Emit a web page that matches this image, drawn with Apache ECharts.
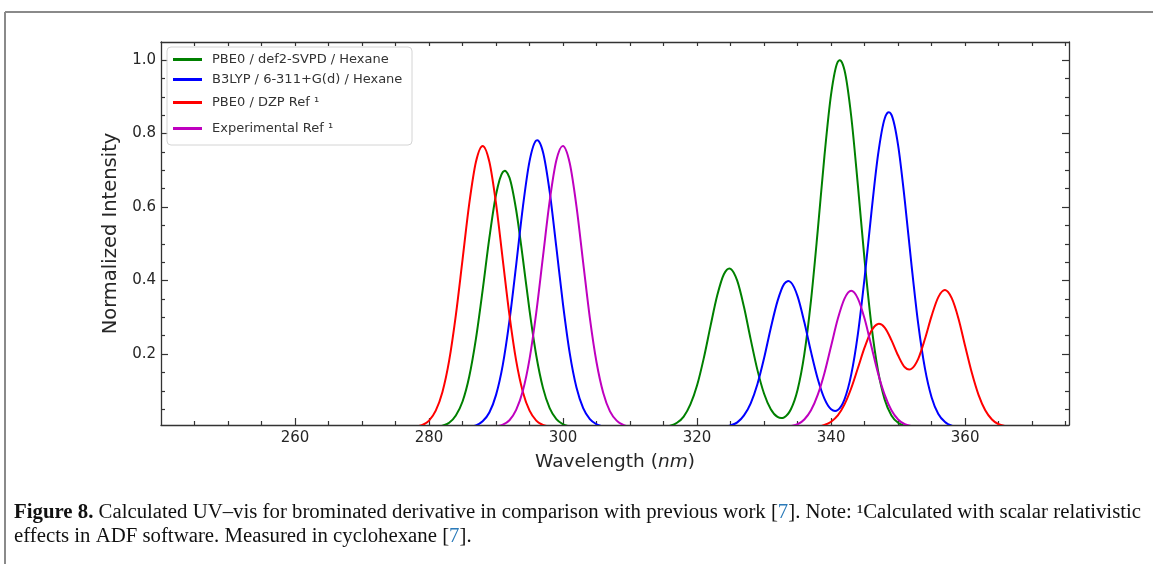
<!DOCTYPE html>
<html><head><meta charset="utf-8">
<script src="https://cdn.jsdelivr.net/npm/echarts@6/dist/echarts.min.js"></script>
<style>html,body{margin:0;padding:0;background:#fff}#c{width:1153px;height:564px}</style>
</head><body><div id="c"></div>
<script>
// ---------- data ----------
const wavelengths = [
  276,277,278,279,280,281,282,283,284,285,
  286,287,288,289,290,291,292,293,294,295,
  296,297,298,299,300,301,302,303,304,305,
  306,307,308,309,310,311,312,313,314,315,
  316,317,318,319,320,321,322,323,324,325,
  326,327,328,329,330,331,332,333,334,335,
  336,337,338,339,340,341,342,343,344,345,
  346,347,348,349,350,351,352,353,354,355,
  356,357,358,359,360,361,362,363,364,365,
  366,367,368
];
const pbe0Svpd = [
  0, 0, 0, 0, 0.001, 0.002, 0.005, 0.013, 0.033, 0.071,
  0.139, 0.242, 0.374, 0.516, 0.634, 0.695, 0.680, 0.592, 0.460, 0.318,
  0.196, 0.108, 0.053, 0.023, 0.009, 0.003, 0.001, 0, 0, 0,
  0, 0, 0, 0, 0, 0, 0, 0, 0.001, 0.002,
  0.005, 0.013, 0.030, 0.063, 0.115, 0.189, 0.276, 0.359, 0.417, 0.432,
  0.399, 0.328, 0.240, 0.157, 0.092, 0.050, 0.029, 0.028, 0.050, 0.103,
  0.199, 0.346, 0.535, 0.738, 0.907, 0.995, 0.972, 0.847, 0.658, 0.455,
  0.281, 0.155, 0.076, 0.033, 0.013, 0.005, 0.001, 0, 0, 0,
  0, 0, 0, 0, 0, 0, 0, 0, 0, 0,
  0, 0, 0
];
const b3lyp = [
  0, 0, 0, 0, 0, 0, 0, 0, 0, 0.001,
  0.002, 0.006, 0.017, 0.041, 0.089, 0.170, 0.291, 0.442, 0.600, 0.725,
  0.781, 0.750, 0.642, 0.490, 0.334, 0.202, 0.109, 0.053, 0.023, 0.009,
  0.003, 0.001, 0, 0, 0, 0, 0, 0, 0, 0,
  0, 0, 0, 0, 0, 0, 0, 0.001, 0.002, 0.006,
  0.014, 0.033, 0.066, 0.118, 0.189, 0.271, 0.344, 0.391, 0.395, 0.357,
  0.287, 0.206, 0.133, 0.079, 0.050, 0.048, 0.077, 0.144, 0.255, 0.408,
  0.583, 0.742, 0.841, 0.851, 0.768, 0.617, 0.442, 0.282, 0.161, 0.082,
  0.037, 0.015, 0.005, 0.002, 0.001, 0, 0, 0, 0, 0,
  0, 0, 0
];
const pbe0Dzp = [
  0, 0.001, 0.003, 0.007, 0.019, 0.046, 0.097, 0.182, 0.306, 0.457,
  0.609, 0.723, 0.766, 0.723, 0.609, 0.457, 0.306, 0.182, 0.097, 0.046,
  0.019, 0.007, 0.003, 0.001, 0, 0, 0, 0, 0, 0,
  0, 0, 0, 0, 0, 0, 0, 0, 0, 0,
  0, 0, 0, 0, 0, 0, 0, 0, 0, 0,
  0, 0, 0, 0, 0, 0, 0, 0, 0, 0,
  0, 0.001, 0.002, 0.007, 0.016, 0.033, 0.063, 0.107, 0.162, 0.218,
  0.263, 0.282, 0.272, 0.238, 0.196, 0.164, 0.160, 0.187, 0.241, 0.304,
  0.355, 0.374, 0.352, 0.297, 0.222, 0.149, 0.089, 0.047, 0.022, 0.009,
  0.004, 0.001, 0
];
const experimental = [
  0, 0, 0, 0, 0, 0, 0, 0, 0, 0,
  0, 0, 0, 0.001, 0.003, 0.008, 0.020, 0.048, 0.100, 0.187,
  0.313, 0.465, 0.616, 0.727, 0.766, 0.719, 0.602, 0.449, 0.298, 0.177,
  0.094, 0.044, 0.019, 0.007, 0.002, 0.001, 0, 0, 0, 0,
  0, 0, 0, 0, 0, 0, 0, 0, 0, 0,
  0, 0, 0, 0, 0, 0, 0, 0.001, 0.004, 0.009,
  0.022, 0.047, 0.089, 0.148, 0.222, 0.296, 0.351, 0.372, 0.351, 0.296,
  0.222, 0.148, 0.089, 0.047, 0.022, 0.009, 0.004, 0.001, 0, 0,
  0, 0, 0, 0, 0, 0, 0, 0, 0, 0,
  0, 0, 0
];
const seriesNames = ['PBE0 / def2-SVPD / Hexane', 'B3LYP / 6-311+G(d) / Hexane', 'PBE0 / DZP Ref \u00b9', 'Experimental Ref \u00b9'];
const xTickLabels = [260, 280, 300, 320, 340, 360];
const xMinorTicks = [245,250,255,265,270,275,285,290,295,305,310,315,325,330,335,345,350,355,365,370,375];
const xTopTicks = [245,250,255,260,265,270,275,280,285,290,295,300,305,310,315,320,325,330,335,340,345,350,355,360,365,370,375];
const yTickLabels = [0.2, 0.4, 0.6, 0.8, 1.0];
const yMinorTicks = [0.05,0.1,0.15,0.25,0.3,0.35,0.45,0.5,0.55,0.65,0.7,0.75,0.85,0.9,0.95];

// ---------- chart ----------
const X_MIN = 240, X_MAX = 375.5, Y_MIN = 0.007, Y_MAX = 1.049;
const colors = ['#008000', '#0000ff', '#ff0000', '#bf00bf'];
const valueSets = [pbe0Svpd, b3lyp, pbe0Dzp, experimental];
const AX = '#333';
const FONT = 'DejaVu Sans';
const SERIF = 'Liberation Serif';

function xAx(pos, ticks, len, opts) {
  return Object.assign({
    type: 'value', gridIndex: 0, position: pos, min: X_MIN, max: X_MAX,
    axisLine: {show: false, onZero: false},
    axisTick: {show: true, inside: true, length: len, customValues: ticks, lineStyle: {color: AX, width: 1.2}},
    axisLabel: {show: false},
    splitLine: {show: false}
  }, opts || {});
}
function yAx(pos, ticks, len, opts) {
  return Object.assign({
    type: 'value', gridIndex: 0, position: pos, min: Y_MIN, max: Y_MAX,
    axisLine: {show: false, onZero: false},
    axisTick: {show: true, inside: true, length: len, customValues: ticks, lineStyle: {color: AX, width: 1.2}},
    axisLabel: {show: false},
    splitLine: {show: false}
  }, opts || {});
}

// smooth curve through the data points (uniform Catmull-Rom), positions from the axis scales
function makeRender(values, color) {
  return function (params, api) {
    if (params.dataIndex !== 0) return null;
    const pts = wavelengths.map((w, k) => api.coord([w, values[k]]));
    let d = 'M' + pts[0][0] + ' ' + pts[0][1];
    for (let i = 0; i < pts.length - 1; i++) {
      const p0 = pts[Math.max(i - 1, 0)], p1 = pts[i], p2 = pts[i + 1], p3 = pts[Math.min(i + 2, pts.length - 1)];
      const c1x = p1[0] + (p2[0] - p0[0]) / 6, c1y = p1[1] + (p2[1] - p0[1]) / 6;
      const c2x = p2[0] - (p3[0] - p1[0]) / 6, c2y = p2[1] - (p3[1] - p1[1]) / 6;
      d += ' C' + c1x + ' ' + c1y + ' ' + c2x + ' ' + c2y + ' ' + p2[0] + ' ' + p2[1];
    }
    return {type: 'path', shape: {pathData: d}, style: {stroke: color, fill: 'none', lineWidth: 2}, silent: true};
  };
}

const option = {
  animation: false,
  backgroundColor: '#fff',
  grid: {left: 161, top: 42, right: 84, bottom: 139, containLabel: false},
  xAxis: [
    xAx('bottom', xTickLabels, 7, {
      axisLine: {show: true, onZero: false, lineStyle: {color: AX, width: 1.3}},
      axisLabel: {show: true, customValues: xTickLabels, margin: 6, fontSize: 15, fontFamily: FONT, color: '#262626'},
      name: 'Wavelength ({i|nm})', nameLocation: 'middle', nameGap: 28,
      nameTextStyle: {fontSize: 18.5, fontFamily: FONT, color: '#262626',
        rich: {i: {fontSize: 18.5, fontFamily: FONT, fontStyle: 'italic', color: '#262626'}}}
    }),
    xAx('bottom', xMinorTicks, 4),
    xAx('top', xTopTicks, 4, {axisLine: {show: true, onZero: false, lineStyle: {color: AX, width: 1.3}}})
  ],
  yAxis: [
    yAx('left', yTickLabels, 7, {
      axisLine: {show: true, onZero: false, lineStyle: {color: AX, width: 1.3}},
      axisLabel: {show: true, customValues: yTickLabels, margin: 5, fontSize: 15, fontFamily: FONT, color: '#262626',
        formatter: v => v.toFixed(1)},
      name: 'Normalized Intensity', nameLocation: 'middle', nameGap: 37,
      nameTextStyle: {fontSize: 19.5, fontFamily: FONT, color: '#262626'}
    }),
    yAx('left', yMinorTicks, 4),
    yAx('right', yTickLabels, 7, {axisLine: {show: true, onZero: false, lineStyle: {color: AX, width: 1.3}}}),
    yAx('right', yMinorTicks, 4)
  ],
  legend: seriesNames.map((n, i) => ({
    data: [{name: n, itemStyle: {color: colors[i]}}], left: 173, top: [53, 73, 96, 122][i], padding: 0, orient: 'vertical',
    itemWidth: 29, itemHeight: 3, icon: 'rect', selectedMode: false,
    textStyle: {fontSize: 13, fontFamily: FONT, color: '#333', padding: [0, 0, 0, 5]}
  })),
  series: seriesNames.map((n, i) => ({
    name: n, type: 'custom', xAxisIndex: 0, yAxisIndex: 0,
    coordinateSystem: 'cartesian2d', clip: true,
    data: wavelengths.map((w, k) => [w, valueSets[i][k]]),
    encode: {x: 0, y: 1},
    renderItem: makeRender(valueSets[i], colors[i]),
    color: colors[i],
    itemStyle: {color: colors[i]},
    z: 2 + i
  })),
  graphic: [
    {type: 'line', shape: {x1: 5, y1: 12, x2: 1153, y2: 12}, style: {stroke: '#8a8a8a', lineWidth: 2}},
    {type: 'line', shape: {x1: 5, y1: 12, x2: 5, y2: 564}, style: {stroke: '#8a8a8a', lineWidth: 2}},
    {type: 'rect', shape: {x: 167, y: 47, width: 245, height: 98, r: 4},
      style: {fill: 'rgba(255,255,255,0.85)', stroke: '#d4d4d4', lineWidth: 1}, z: 1},
    {type: 'text', x: 14, y: 513, scaleX: 1.04, style: {
      text: '{b|Figure 8.} Calculated UV\u2013vis for brominated derivative in comparison with previous work [{l|7}]. Note: \u00b9Calculated with scalar relativistic',
      fontSize: 20, fontFamily: SERIF, fill: '#111', verticalAlign: 'middle',
      rich: {
        b: {fontSize: 20, fontFamily: SERIF, fontWeight: 'bold', fill: '#111'},
        l: {fontSize: 20, fontFamily: SERIF, fill: '#2a7ab9'}
      }}},
    {type: 'text', x: 14, y: 537, scaleX: 1.04, style: {
      text: 'effects in ADF software. Measured in cyclohexane [{l|7}].',
      fontSize: 20, fontFamily: SERIF, fill: '#111', verticalAlign: 'middle',
      rich: {l: {fontSize: 20, fontFamily: SERIF, fill: '#2a7ab9'}}
    }}
  ]
};
const chart = echarts.init(document.getElementById('c'), null, {renderer: 'canvas'});
chart.setOption(option);
</script>
</body></html>
